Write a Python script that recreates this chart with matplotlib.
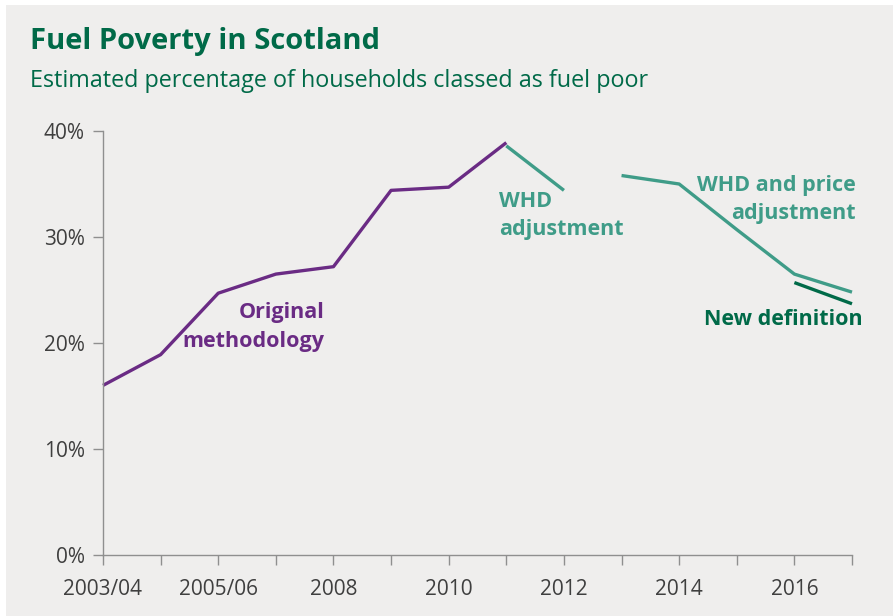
import numpy as np
import matplotlib
matplotlib.use("Agg")
import matplotlib.pyplot as plt
from matplotlib.patches import Rectangle

# survey years on the x axis
years = ["2003/04", "2004/05", "2005/06", "2007", "2008", "2009", "2010",
         "2011", "2012", "2013", "2014", "2015", "2016", "2017"]
tick_labels = ["2003/04", "", "2005/06", "", "2008", "", "2010",
               "", "2012", "", "2014", "", "2016", ""]

# % of households in fuel poverty, one series per methodology
original = [16.0, 18.9, 24.7, 26.5, 27.2, 34.4, 34.7, 38.9]
original_idx = list(range(0, 8))
whd = [38.6, 34.4]
whd_idx = [7, 8]
whd_price = [35.8, 35.0, 30.7, 26.5, 24.8]
whd_price_idx = [9, 10, 11, 12, 13]
new_def = [25.7, 23.7]
new_def_idx = [12, 13]

BG = "#efeeed"
PURPLE = "#6a2b84"
TEAL = "#3f9c88"
DKGREEN = "#006a48"
AXIS = "#8f8f8f"
TICKTXT = "#3f3f3f"

fig = plt.figure(figsize=(8.95, 6.16), dpi=100)
fig.patch.set_facecolor("white")
fig.patches.append(Rectangle((6 / 895, 0), 887 / 895, 611 / 616,
                             transform=fig.transFigure, facecolor=BG,
                             edgecolor="none", zorder=-10))

ax = fig.add_axes([103 / 895, 1 - 555 / 616, 749 / 895, 424 / 616])
ax.set_facecolor("none")

lw = 2.4
ax.plot(original_idx, original, color=PURPLE, lw=lw, solid_capstyle="butt", clip_on=False)
ax.plot(whd_idx, whd, color=TEAL, lw=lw, solid_capstyle="butt", clip_on=False)
ax.plot(whd_price_idx, whd_price, color=TEAL, lw=lw, solid_capstyle="butt", clip_on=False)
ax.plot(new_def_idx, new_def, color=DKGREEN, lw=lw, solid_capstyle="butt", clip_on=False)

ax.set_xlim(0, 13)
ax.set_ylim(0, 40)
ax.set_xticks(range(len(years)))
ax.set_xticklabels(tick_labels)
ax.set_yticks([0, 10, 20, 30, 40])
ax.set_yticklabels([f"{v}%" for v in [0, 10, 20, 30, 40]])

for s in ["top", "right"]:
    ax.spines[s].set_visible(False)
for s in ["left", "bottom"]:
    ax.spines[s].set_color(AXIS)
    ax.spines[s].set_linewidth(1.0)

ax.tick_params(axis="both", colors=AXIS, length=7, width=1.0, direction="out",
               labelcolor=TICKTXT, labelsize=15)
ax.tick_params(axis="x", pad=10)
ax.tick_params(axis="y", pad=6)
for lab in ax.get_xticklabels() + ax.get_yticklabels():
    lab.set_family(["Open Sans", "DejaVu Sans"])

ann = ["Open Sans", "DejaVu Sans"]
fs = 15.5
ax.text(3.85, 21.5, "Original\nmethodology", color=PURPLE, fontsize=fs,
        fontweight="bold", family=ann, ha="right", va="center",
        multialignment="right", linespacing=1.45)
ax.text(6.87, 32.0, "WHD\nadjustment", color=TEAL, fontsize=fs,
        fontweight="bold", family=ann, ha="left", va="center",
        multialignment="left", linespacing=1.45)
ax.text(13.06, 33.5, "WHD and price\nadjustment", color=TEAL, fontsize=fs,
        fontweight="bold", family=ann, ha="right", va="center",
        multialignment="right", linespacing=1.45)
ax.text(13.18, 22.2, "New definition", color=DKGREEN, fontsize=fs,
        fontweight="bold", family=ann, ha="right", va="center")

fig.text(30 / 895, 1 - 42 / 616, "Fuel Poverty in Scotland", color=DKGREEN,
         fontsize=21, fontweight="bold", family=["Open Sans", "DejaVu Sans"],
         ha="left", va="center")
fig.text(30 / 895, 1 - 81 / 616,
         "Estimated percentage of households classed as fuel poor",
         color=DKGREEN, fontsize=16.8, family=["Open Sans", "DejaVu Sans"],
         ha="left", va="center")

fig.savefig("out.png", dpi=100, facecolor=fig.get_facecolor())
